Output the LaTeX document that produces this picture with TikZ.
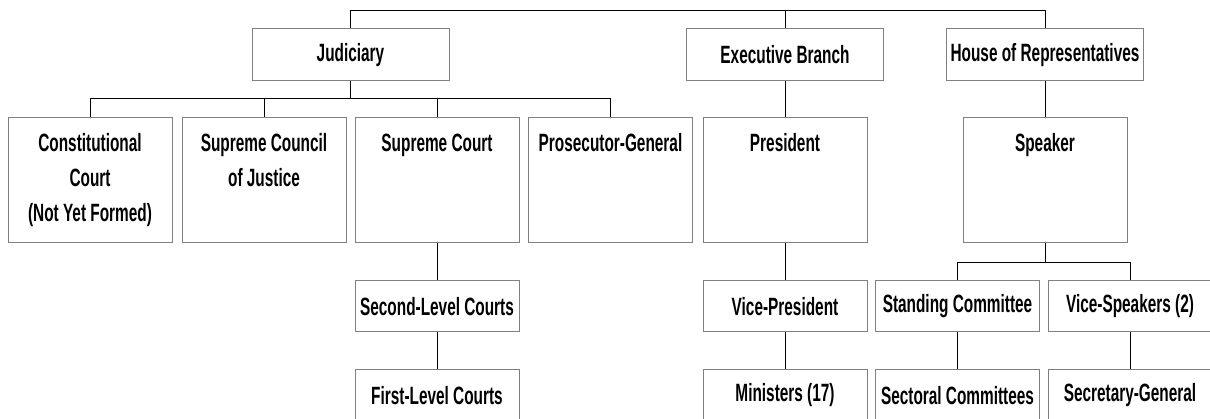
\documentclass[tikz,border=0pt]{standalone}
\usepackage{fontspec}
\setmainfont{Liberation Sans}[FakeStretch=0.615]
\definecolor{boxline}{gray}{0.5}

\tikzset{  
block/.style    = {draw=boxline, line width=1pt, fill=white, rectangle, inner sep=0pt, minimum width=164pt, minimum height=51pt, font=\fontsize{25}{35}\selectfont\bfseries},}

\begin{document}
\begin{tikzpicture}[x=1pt, y=1pt]
    \tikzset{head/.style={block, minimum width=197pt, minimum height=52pt},
             tall/.style={block, minimum height=125pt},
             toptext/.style={anchor=north, inner sep=0pt, yshift=-16pt, align=center, font=\fontsize{25}{35}\selectfont\bfseries},
             link/.style={draw, line width=1pt}}
    \useasboundingbox (0,0) rectangle (1210,-419);
    \coordinate (top) at (0,-11);
    \coordinate (jbus) at (0,-99);
    \coordinate (sbus) at (0,-263);
    % branches
    \node[head] (jud) at (350.5,-55) {Judiciary};
    \node[head] (exe) at (785,-55) {Executive Branch};
    \node[head] (hou) at (1045,-55) {House of Representatives};
    % second row
    \node[tall] (con) at (90,-180.5) {};
    \node[tall] (scj) at (264,-180.5) {};
    \node[tall] (sup) at (437,-180.5) {};
    \node[tall] (pro) at (610.5,-180.5) {};
    \node[tall] (pre) at (785,-180.5) {};
    \node[tall] (spk) at (1045,-180.5) {};
    \node[toptext] (con-t) at (con.north) {Constitutional\\Court\\(Not Yet Formed)};
    \node[toptext] (scj-t) at (scj.north) {Supreme Council\\of Justice};
    \node[toptext] (sup-t) at (sup.north) {Supreme Court};
    \node[toptext] (pro-t) at (pro.north) {Prosecutor-General};
    \node[toptext] (pre-t) at (pre.north) {President};
    \node[toptext] (spk-t) at (spk.north) {Speaker};
    % third and fourth rows
    \node[block] (slc) at (437,-306.5) {Second-Level Courts};
    \node[block] (vp) at (785,-306.5) {Vice-President};
    \node[block] (stc) at (957.5,-306.5) {Standing Committee};
    \node[block] (vsp) at (1130,-306.5) {Vice-Speakers (2)};
    \node[block] (flc) at (437,-395.5) {First-Level Courts};
    \node[block] (min) at (785,-395.5) {Ministers (17)};
    \node[block] (sec) at (957.5,-395.5) {Sectoral Committees};
    \node[block] (sgn) at (1130,-395.5) {Secretary-General};
    % connectors
    \draw[link] (jud.north) |- (top -| hou.north) -- (hou.north);
    \draw[link] (exe.north) -- (exe.north |- top);
    \foreach \n in {con,scj,sup,pro}
        \draw[link] (jud.south) |- (\n.north |- jbus) -- (\n.north);
    \foreach \n in {stc,vsp}
        \draw[link] (spk.south) |- (\n.north |- sbus) -- (\n.north);
    \foreach \a/\b in {exe/pre, hou/spk, sup/slc, slc/flc, pre/vp, vp/min, stc/sec, vsp/sgn}
        \draw[link] (\a.south) -- (\b.north);
\end{tikzpicture}
\end{document}
